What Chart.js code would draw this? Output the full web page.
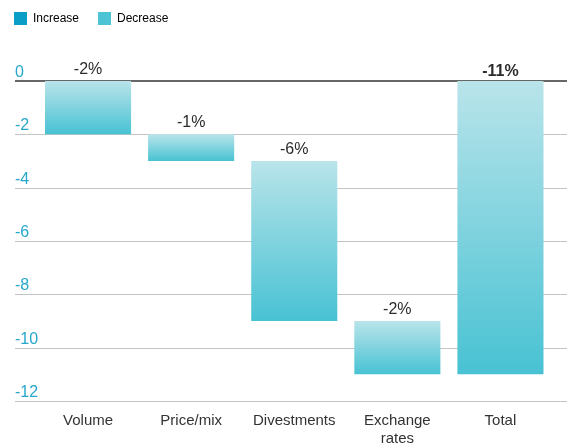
<!DOCTYPE html>
<html>
<head>
<meta charset="utf-8">
<script src="https://cdn.jsdelivr.net/npm/chart.js@4/dist/chart.umd.min.js"></script>
<style>
  html, body { margin: 0; padding: 0; background: #ffffff; }
  #wrap { width: 567px; height: 444px; position: relative; }
</style>
</head>
<body>
<div id="wrap"><canvas id="chart"></canvas></div>
<script>
// Sales bridge: change per driver (percentage points) and overall total
const categories = ['Volume', 'Price/mix', 'Divestments', ['Exchange', 'rates'], 'Total'];
const changes = [-2, -1, -6, -2];
const totalChange = -11;
const yTicks = [0, -2, -4, -6, -8, -10, -12];
const legendNames = ['Increase', 'Decrease'];

// Floating bar ranges: each driver starts where the previous one ended
const ranges = [];
let running = 0;
changes.forEach(c => { ranges.push([running, running + c]); running += c; });
ranges.push([0, totalChange]);
const valueLabels = [...changes, totalChange].map(v => v + '%');
const increaseRanges = ranges.map(r => (r[1] > r[0] ? r : null));
const decreaseRanges = ranges.map(r => (r[1] <= r[0] ? r : null));

const FONT = "'Liberation Sans', Arial, Helvetica, sans-serif";
const TEAL_TICK = '#27a7cb';
const INCREASE_COLOR = '#0a9ec6';
const DECREASE_COLOR = '#4cc4d6';

function barGradient(ctx, topColor, bottomColor, flat) {
  const chart = ctx.chart;
  if (!chart.chartArea || ctx.type !== 'data' || !ctx.raw) return flat;
  const ys = chart.scales.y;
  const top = ys.getPixelForValue(Math.max(ctx.raw[0], ctx.raw[1]));
  const bottom = ys.getPixelForValue(Math.min(ctx.raw[0], ctx.raw[1]));
  const g = chart.ctx.createLinearGradient(0, top, 0, bottom);
  g.addColorStop(0, topColor);
  g.addColorStop(1, bottomColor);
  return g;
}

// Horizontal rules spanning the full width, with tick values sitting above each line
const gridPlugin = {
  id: 'fullGrid',
  beforeDatasetsDraw(chart) {
    const { ctx } = chart;
    const ys = chart.scales.y;
    ctx.save();
    ys.ticks.forEach(t => {
      const py = Math.round(ys.getPixelForValue(t.value));
      const zero = t.value === 0;
      ctx.beginPath();
      ctx.strokeStyle = zero ? '#666666' : '#c4c4c4';
      ctx.lineWidth = zero ? 2 : 1.2;
      ctx.moveTo(15, py + (zero ? 0 : 0.5));
      ctx.lineTo(chart.width, py + (zero ? 0 : 0.5));
      ctx.stroke();
      ctx.fillStyle = TEAL_TICK;
      ctx.font = '16px ' + FONT;
      ctx.textAlign = 'left';
      ctx.textBaseline = 'alphabetic';
      ctx.fillText(String(t.value), 15, py - 4);
    });
    ctx.restore();
  }
};

// Percentage labels above each bar
const valuePlugin = {
  id: 'valueLabels',
  afterDatasetsDraw(chart) {
    const { ctx } = chart;
    const meta = chart.getDatasetMeta(1);
    ctx.save();
    ctx.textAlign = 'center';
    ctx.textBaseline = 'alphabetic';
    ctx.fillStyle = '#2b2b2b';
    meta.data.forEach((el, i) => {
      if (!decreaseRanges[i]) return;
      const top = Math.min(el.y, el.base);
      const isTotal = i === valueLabels.length - 1;
      ctx.font = (isTotal ? 'bold ' : '') + '16px ' + FONT;
      ctx.fillText(valueLabels[i], el.x, top - (isTotal ? 5 : 7));
    });
    ctx.restore();
  }
};

// Reserve room between the legend and the plot
const legendSpacer = {
  id: 'legendSpacer',
  beforeInit(chart) {
    const fit = chart.legend.fit;
    chart.legend.fit = function () {
      fit.bind(chart.legend)();
      this.height = 88;
    };
  }
};

new Chart(document.getElementById('chart'), {
  type: 'bar',
  data: {
    labels: categories,
    datasets: [
      {
        label: legendNames[0],
        data: increaseRanges,
        grouped: false,
        backgroundColor: ctx => barGradient(ctx, '#7fcfe2', INCREASE_COLOR, INCREASE_COLOR),
        legendColor: INCREASE_COLOR
      },
      {
        label: legendNames[1],
        data: decreaseRanges,
        grouped: false,
        backgroundColor: ctx => barGradient(ctx, '#b9e4ea', '#48c2d3', DECREASE_COLOR),
        legendColor: DECREASE_COLOR
      }
    ]
  },
  options: {
    responsive: true,
    maintainAspectRatio: false,
    animation: false,
    layout: { padding: { top: -7, left: -5, right: 15, bottom: 0 } },
    datasets: { bar: { barPercentage: 0.835, categoryPercentage: 1, borderWidth: 0 } },
    scales: {
      x: {
        grid: { display: false, drawTicks: false },
        border: { display: false },
        ticks: {
          color: '#333333',
          font: { family: FONT, size: 15, lineHeight: 1.2 },
          padding: 11,
          maxRotation: 0,
          autoSkip: false
        },
        afterFit(scale) { scale.height = 43; }
      },
      y: {
        min: Math.min(...yTicks),
        max: Math.max(...yTicks),
        grid: { display: false, drawTicks: false },
        border: { display: false },
        ticks: { display: false, stepSize: 2 },
        afterFit(scale) { scale.width = 41.5; }
      }
    },
    plugins: {
      legend: {
        position: 'top',
        align: 'start',
        labels: {
          boxWidth: 13,
          boxHeight: 13,
          padding: 19,
          color: '#555555',
          font: { family: FONT, size: 12 },
          generateLabels(chart) {
            return chart.data.datasets.map((ds, i) => ({
              text: ds.label,
              fillStyle: ds.legendColor,
              strokeStyle: ds.legendColor,
              lineWidth: 0,
              hidden: false,
              datasetIndex: i
            }));
          }
        }
      },
      tooltip: { enabled: false }
    }
  },
  plugins: [legendSpacer, gridPlugin, valuePlugin]
});
</script>
</body>
</html>
